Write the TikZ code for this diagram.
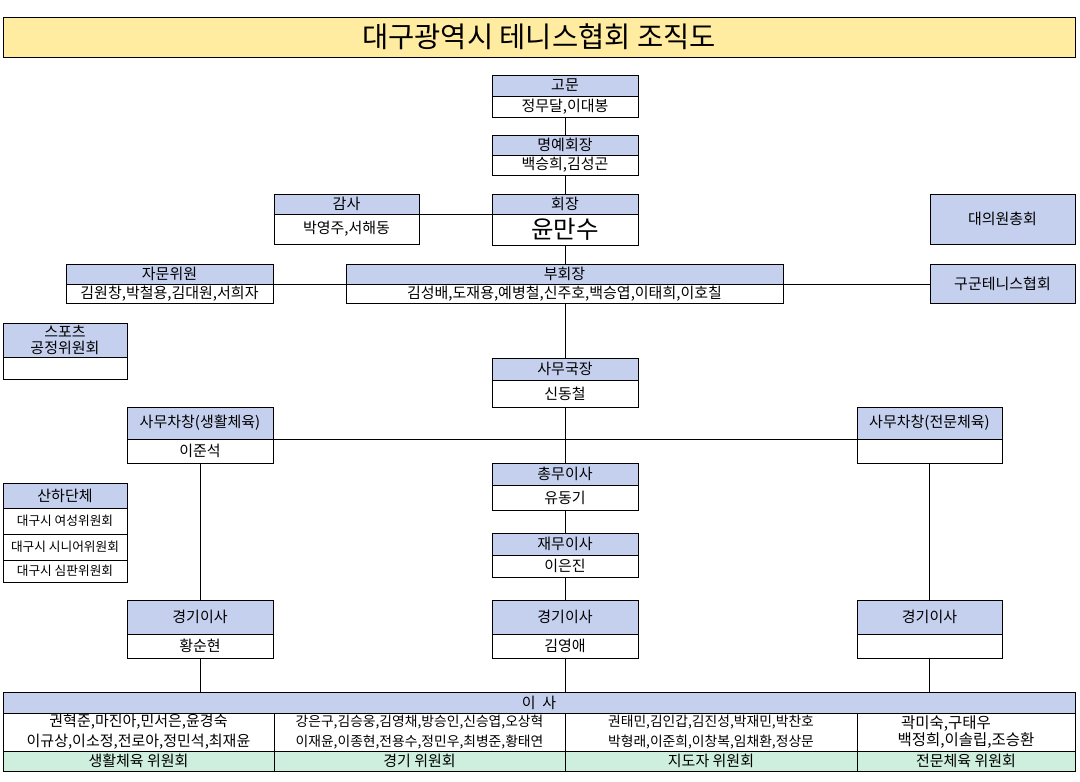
\documentclass[tikz,border=0pt]{standalone}
\usepackage{fontspec}
\setmainfont{Noto Sans CJK KR}
\definecolor{hblue}{RGB}{197,208,238}
\definecolor{tyellow}{RGB}{255,236,160}
\definecolor{cgreen}{RGB}{206,238,222}
\tikzset{
  cell/.style={draw=black, line width=0.8pt, inner sep=0pt, outer sep=0pt, anchor=north west, align=center, font=\fontsize{15}{16}\selectfont},
  hdr/.style={cell, fill=hblue},
  bdy/.style={cell, fill=white},
  grn/.style={cell, fill=cgreen},
  conn/.style={draw=black, line width=0.8pt},
}
\newcommand\obox[8]{%
  \node[hdr, minimum width=#4, minimum height=#5] (#1-h) at (#2,#3) {#7};
  \node[bdy, minimum width=#4, minimum height=#6] (#1-b) at (#1-h.south west) {#8};}
\begin{document}
\begin{tikzpicture}[x=1pt,y=-1pt]
\useasboundingbox[fill=white] (0,0) rectangle (1080,782);
% title
\node[cell, fill=tyellow, minimum width=1072, minimum height=40, font=\fontsize{28.5}{30}\selectfont] (title) at (3,17) {대구광역시 테니스협회 조직도};
% boxes
\obox{gomun}{492}{75}{146}{21}{21}{고문}{정무달,이대봉}
\obox{myeong}{492}{135}{146}{20}{20}{명예회장}{백승희,김성곤}
\obox{hoe}{492}{194}{146}{20}{31}{회장}{\fontsize{24.5}{26}\selectfont 윤만수}
\obox{gamsa}{274}{194}{145}{20}{30}{감사}{박영주,서해동}
\node[hdr, minimum width=145, minimum height=50] (daeui) at (930,194) {대의원총회};
\obox{jamun}{66}{264}{207}{20}{19}{자문위원}{김원창,박철용,김대원,서희자}
\obox{bu}{346}{264}{437}{20}{19}{부회장}{김성배,도재용,예병철,신주호,백승엽,이태희,이호칠}
\node[hdr, minimum width=145, minimum height=39] (gugun) at (930,264) {구군테니스협회};
\obox{sports}{3}{323}{124}{34}{22}{\fontsize{15}{14}\selectfont 스포츠\\공정위원회}{}
\obox{samu}{492}{358}{146}{22}{27}{사무국장}{신동철}
\obox{cha1}{127}{407}{146}{32}{24}{사무차창(생활체육)}{이준석}
\obox{cha2}{857}{407}{145}{32}{24}{사무차창(전문체육)}{}
\obox{chong}{492}{463}{146}{22}{25}{총무이사}{유동기}
\obox{jae}{492}{533}{146}{22}{22}{재무이사}{이은진}
\obox{kg1}{127}{600}{146}{34}{24}{경기이사}{황순현}
\obox{kg2}{492}{600}{146}{34}{24}{경기이사}{김영애}
\obox{kg3}{857}{600}{145}{34}{24}{경기이사}{}
% 산하단체
\node[hdr, minimum width=124, minimum height=25] (sanha) at (3,483) {산하단체};
\node[bdy, minimum width=124, minimum height=26, font=\fontsize{12.7}{14}\selectfont] (sanha1) at (sanha.south west) {대구시 여성위원회};
\node[bdy, minimum width=124, minimum height=26, font=\fontsize{12.7}{14}\selectfont] (sanha2) at (sanha1.south west) {대구시 시니어위원회};
\node[bdy, minimum width=124, minimum height=22, font=\fontsize{12.7}{14}\selectfont] (sanha3) at (sanha2.south west) {대구시 심판위원회};
% table
\node[hdr, minimum width=1072, minimum height=21] (isa) at (3,692) {이\ \ 사};
\node[bdy, minimum width=271, minimum height=38, font=\fontsize{15}{20}\selectfont] (n1) at (isa.south west) {권혁준,마진아,민서은,윤경숙\\이규상,이소정,전로아,정민석,최재윤};
\node[bdy, minimum width=291, minimum height=38, font=\fontsize{13.8}{20}\selectfont] (n2) at (n1.north east) {강은구,김승웅,김영채,방승인,신승엽,오상혁\\이재윤,이종현,전용수,정민우,최병준,황태연};
\node[bdy, minimum width=292, minimum height=38, font=\fontsize{13.8}{20}\selectfont] (n3) at (n2.north east) {권태민,김인갑,김진성,박재민,박찬호\\박형래,이준희,이창복,임채환,정상문};
\node[bdy, minimum width=218, minimum height=38, font=\fontsize{15.5}{17}\selectfont, align=left] (n4) at (n3.north east) {\ 곽미숙,구태우\\백정희,이솔립,조승환};
\node[grn, minimum width=271, minimum height=20] (g1) at (n1.south west) {생활체육 위원회};
\node[grn, minimum width=291, minimum height=20] (g2) at (n2.south west) {경기 위원회};
\node[grn, minimum width=292, minimum height=20] (g3) at (n3.south west) {지도자 위원회};
\node[grn, minimum width=218, minimum height=20] (g4) at (n4.south west) {전문체육 위원회};
% connectors
\draw[conn] (gomun-b.south) -- (myeong-h.north);
\draw[conn] (myeong-b.south) -- (hoe-h.north);
\draw[conn] (hoe-b.south) -- (hoe-b.south |- bu-h.north);
\draw[conn] (bu-b.south -| samu-h.north) -- (samu-h.north);
\draw[conn] (samu-b.south) -- (chong-h.north);
\draw[conn] (chong-b.south) -- (jae-h.north);
\draw[conn] (jae-b.south) -- (kg2-h.north);
\draw[conn] (kg2-b.south) -- (kg2-b.south |- isa.north);
\draw[conn] (gamsa-h.south east) -- (hoe-h.south west);
\draw[conn] (jamun-h.south east) -- (bu-h.south west);
\draw[conn] (bu-h.south east) -- (bu-h.south east -| gugun.west);
\draw[conn] (cha1-h.south east) -- (cha2-h.south west);
\draw[conn] (cha1-b.south) -- (kg1-h.north);
\draw[conn] (kg1-b.south) -- (kg1-b.south |- isa.north);
\draw[conn] (cha2-b.south) -- (kg3-h.north);
\draw[conn] (kg3-b.south) -- (kg3-b.south |- isa.north);
\end{tikzpicture}
\end{document}
